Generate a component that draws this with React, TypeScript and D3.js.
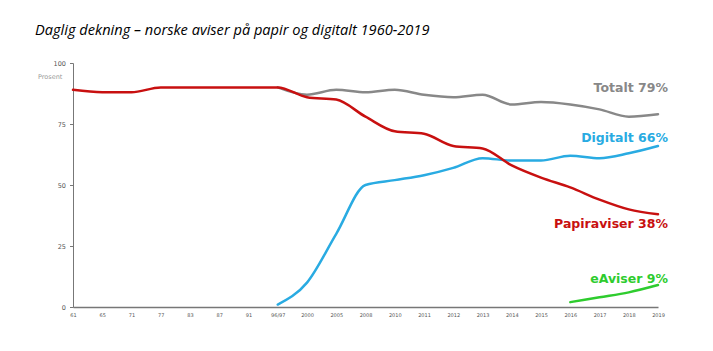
import { useEffect, useRef } from "react";
import * as d3 from "d3";

const categories = ["61", "65", "71", "77", "83", "87", "91", "96/97", "2000", "2005", "2008", "2010", "2011", "2012", "2013", "2014", "2015", "2016", "2017", "2018", "2019"];
const papir = [89, 88, 88, 90, 90, 90, 90, 90, 86, 85, 78, 72, 71, 66, 65, 58, 53, 49, 44, 40, 38];
const totalt = [null, null, null, null, null, null, null, 90, 87, 89, 88, 89, 87, 86, 87, 83, 84, 83, 81, 78, 79];
const digitalt = [null, null, null, null, null, null, null, 1, 10, 30, 50, 52, 54, 57, 61, 60, 60, 62, 61, 63, 66];
const eaviser = [null, null, null, null, null, null, null, null, null, null, null, null, null, null, null, null, null, 2, 4, 6, 9];
const yTicks = [0, 25, 50, 75, 100];

const series = [
	{ name: "Totalt 79%", values: totalt, color: "#888888", dy: -22 },
	{ name: "Digitalt 66%", values: digitalt, color: "#29abe2", dy: -4 },
	{ name: "Papiraviser 38%", values: papir, color: "#c81010", dy: 14 },
	{ name: "eAviser 9%", values: eaviser, color: "#2ecc2e", dy: -2 },
];

const App = () => {
	const svgRef = useRef<SVGSVGElement>(null);

	useEffect(() => {
		if (!svgRef.current) return;
		const width = 713;
		const height = 351;
		const margin = { top: 63, left: 73, right: 55, bottom: 44 };

		const svg = d3.select(svgRef.current).attr("width", width).attr("height", height);
		svg.selectAll("*").remove();

		// Title
		svg
			.append("text")
			.attr("x", 35)
			.attr("y", 35)
			.style("font-family", "'Open Sans', sans-serif")
			.style("font-style", "italic")
			.style("font-size", "14.6px")
			.attr("fill", "#000")
			.text("Daglig dekning – norske aviser på papir og digitalt 1960-2019");

		const x = d3
			.scalePoint()
			.domain(categories)
			.range([margin.left, width - margin.right]);
		const y = d3
			.scaleLinear()
			.domain([0, 100])
			.range([height - margin.bottom, margin.top]);

		// Y axis
		const yAxis = svg
			.append("g")
			.attr("transform", `translate(${margin.left},0)`)
			.call(d3.axisLeft(y).tickValues(yTicks).tickSize(3).tickPadding(4));
		yAxis.select(".domain").attr("stroke", "#777");
		yAxis.selectAll(".tick line").attr("stroke", "#777");
		yAxis
			.selectAll(".tick text")
			.attr("fill", "#555")
			.style("font-family", "'DejaVu Sans', sans-serif")
			.style("font-size", "6.5px");

		svg
			.append("text")
			.attr("x", 38)
			.attr("y", 79)
			.attr("fill", "#999")
			.style("font-family", "'DejaVu Sans', sans-serif")
			.style("font-size", "6.5px")
			.text("Prosent");

		// X axis
		const xAxis = svg
			.append("g")
			.attr("transform", `translate(0,${height - margin.bottom})`)
			.call(d3.axisBottom(x).tickSize(0).tickPadding(6));
		xAxis.select(".domain").attr("stroke", "#777").attr("stroke-width", 1.5);
		xAxis
			.selectAll(".tick text")
			.attr("fill", "#555")
			.style("font-family", "'DejaVu Sans', sans-serif")
			.style("font-size", "5px");

		// Lines
		const line = d3
			.line<number | null>()
			.defined((d) => d !== null)
			.x((_, i) => x(categories[i])!)
			.y((d) => y(d as number))
			.curve(d3.curveMonotoneX);

		series.forEach((s) => {
			svg
				.append("path")
				.datum(s.values)
				.attr("fill", "none")
				.attr("stroke", s.color)
				.attr("stroke-width", 2.5)
				.attr("stroke-linecap", "round")
				.attr("d", line);
		});

		// Labels
		series.forEach((s) => {
			const last = s.values[s.values.length - 1] as number;
			svg
				.append("text")
				.attr("x", x(categories[categories.length - 1])! + 10)
				.attr("y", y(last) + s.dy)
				.attr("text-anchor", "end")
				.attr("fill", s.color)
				.style("font-family", "'DejaVu Sans', sans-serif")
				.style("font-weight", "bold")
				.style("font-size", "12.5px")
				.text(s.name);
		});
	}, []);

	return <svg ref={svgRef} style={{ position: "absolute", left: 0, top: 0 }} />;
};

export default App;
